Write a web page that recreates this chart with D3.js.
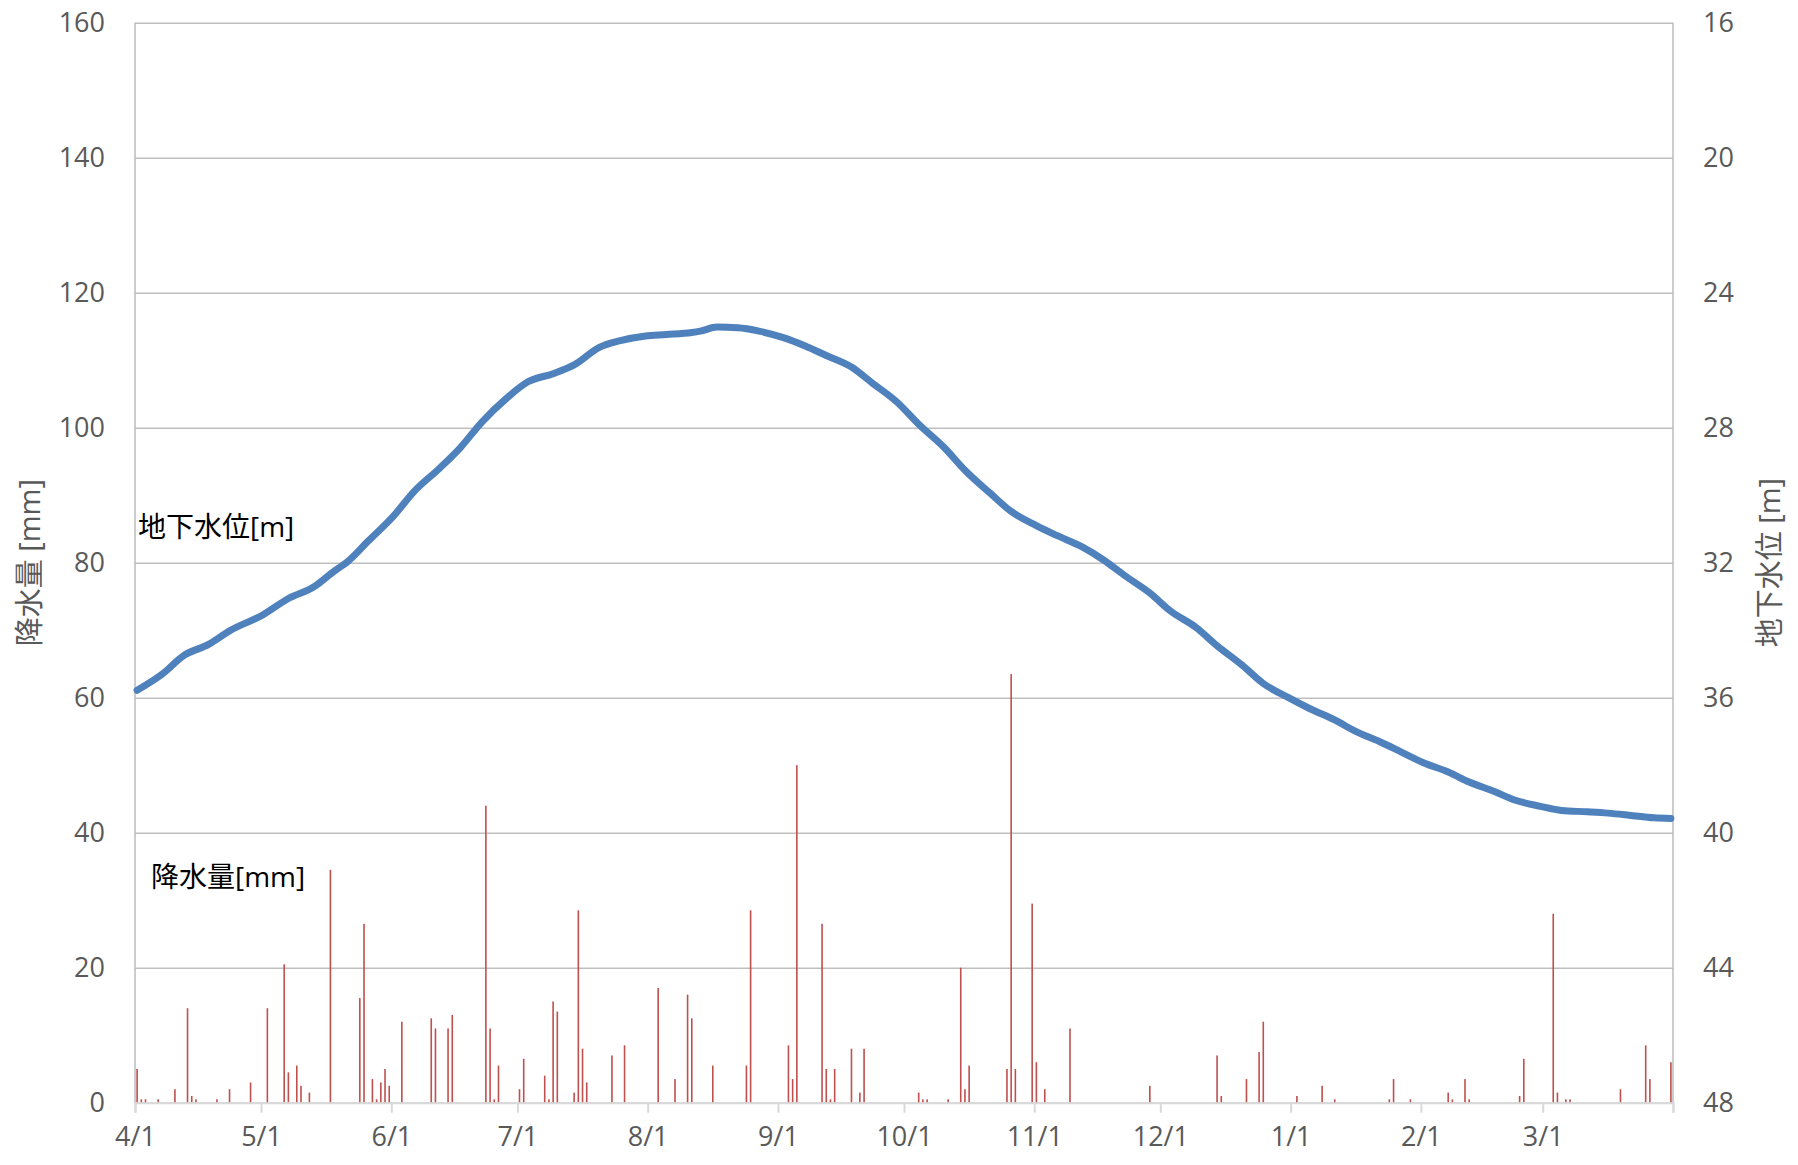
<!DOCTYPE html>
<html>
<head>
<meta charset="utf-8">
<script src="https://cdn.jsdelivr.net/npm/d3@7"></script>
<style>
  body { margin: 0; background: #fff; }
  text { font-family: "Open Sans", "Noto Sans CJK JP", sans-serif; }
</style>
</head>
<body>
<svg id="chart"></svg>
<script>
// daily rain [mm] (days with no rain left out)
var rainDates = ["2019-04-01","2019-04-02","2019-04-03","2019-04-06","2019-04-10","2019-04-13","2019-04-14","2019-04-15","2019-04-20","2019-04-23","2019-04-28",
  "2019-05-02","2019-05-06","2019-05-07","2019-05-09","2019-05-10","2019-05-12","2019-05-17","2019-05-24","2019-05-25","2019-05-27","2019-05-28","2019-05-29","2019-05-30","2019-05-31",
  "2019-06-03","2019-06-10","2019-06-11","2019-06-14","2019-06-15","2019-06-23","2019-06-24","2019-06-25","2019-06-26",
  "2019-07-01","2019-07-02","2019-07-07","2019-07-08","2019-07-09","2019-07-10","2019-07-14","2019-07-15","2019-07-16","2019-07-17","2019-07-23","2019-07-26",
  "2019-08-03","2019-08-07","2019-08-10","2019-08-11","2019-08-16","2019-08-24","2019-08-25",
  "2019-09-03","2019-09-04","2019-09-05","2019-09-11","2019-09-12","2019-09-13","2019-09-14","2019-09-18","2019-09-20","2019-09-21",
  "2019-10-04","2019-10-05","2019-10-06","2019-10-11","2019-10-14","2019-10-15","2019-10-16","2019-10-25","2019-10-26","2019-10-27","2019-10-31",
  "2019-11-01","2019-11-03","2019-11-09","2019-11-28",
  "2019-12-14","2019-12-15","2019-12-21","2019-12-24","2019-12-25",
  "2020-01-02","2020-01-08","2020-01-11","2020-01-24","2020-01-25","2020-01-29",
  "2020-02-07","2020-02-08","2020-02-11","2020-02-12","2020-02-24","2020-02-25",
  "2020-03-03","2020-03-04","2020-03-06","2020-03-07","2020-03-19","2020-03-25","2020-03-26","2020-03-31"];
var rainMm = [5,0.5,0.5,0.5,2,14,1,0.5,0.5,2,3,
  14,20.5,4.5,5.5,2.5,1.5,34.5,15.5,26.5,3.5,0.5,3,5,2.5,
  12,12.5,11,11,13,44,11,0.5,5.5,
  2,6.5,4,0.5,15,13.5,1.5,28.5,8,3,7,8.5,
  17,3.5,16,12.5,5.5,5.5,28.5,
  8.5,3.5,50,26.5,5,0.5,5,8,1.5,8,
  1.5,0.5,0.5,0.5,20,2,5.5,5,63.5,5,29.5,
  6,2,11,2.5,
  7,1,3.5,7.5,12,
  1,2.5,0.5,0.5,3.5,0.5,
  1.5,0.5,3.5,0.5,1,6.5,
  28,1.5,0.5,0.5,2,8.5,3.5,6];

// groundwater level [m] (day number from 4/1)
var gwDay = [0,6,11,17,22,30,36,42,47,50,55,61,66,72,77,82,88,93,99,104,110,115,121,126,132,134,138,143,148,154,159,164,170,175,181,186,192,197,203,208,214,219,225,230,235,241,246,252,257,263,268,274,279,285,290,296,301,306,312,317,323,328,334,339,345,350,355,361,365];
var gwLevel = [35.78,35.30,34.76,34.42,34.02,33.54,33.06,32.72,32.24,31.98,31.36,30.62,29.88,29.20,28.58,27.84,27.12,26.64,26.40,26.14,25.62,25.42,25.28,25.24,25.18,25.14,25.02,25.04,25.14,25.34,25.58,25.86,26.20,26.68,27.26,27.90,28.58,29.26,29.94,30.48,30.90,31.20,31.54,31.92,32.38,32.90,33.44,33.92,34.46,35.04,35.58,36.00,36.32,36.66,37.00,37.32,37.62,37.92,38.20,38.50,38.78,39.04,39.22,39.34,39.38,39.42,39.48,39.56,39.58];

var leftTicks = [0,20,40,60,80,100,120,140,160];
var rightTicks = [16,20,24,28,32,36,40,44,48];

var W = 1798, H = 1165;
var margin = {top: 22.7, right: 125, bottom: 62.3, left: 135};
var width = W - margin.left - margin.right,
    height = H - margin.top - margin.bottom;

var svg = d3.select("#chart").attr("width", W).attr("height", H);
svg.append("rect").attr("width", W).attr("height", H).attr("fill", "#fff");
var g = svg.append("g").attr("transform", "translate(" + margin.left + "," + margin.top + ")");

var parse = d3.utcParse("%Y-%m-%d");
var start = parse("2019-04-01"), end = parse("2020-04-01");

var x = d3.scaleUtc().domain([start, end]).range([0, width]);
var y = d3.scaleLinear().domain([0, 160]).range([height, 0]);
var y2 = d3.scaleLinear().domain([16, 48]).range([0, height]);

// gridlines + left labels
var yAxis = g.append("g")
  .call(d3.axisLeft(y).tickValues(leftTicks).tickSize(-width).tickPadding(30));
yAxis.select(".domain").remove();
yAxis.selectAll("line").attr("stroke", "#bfbfbf").attr("stroke-width", 1.6);
yAxis.selectAll("text").attr("fill", "#595959").style("font-size", "27px");

// right labels
var yAxis2 = g.append("g").attr("transform", "translate(" + width + ",0)")
  .call(d3.axisRight(y2).tickValues(rightTicks).tickSize(0).tickPadding(30));
yAxis2.select(".domain").remove();
yAxis2.selectAll("text").attr("fill", "#595959").style("font-size", "27px");

// plot frame (left / right)
g.append("line").attr("x1", 0).attr("x2", 0).attr("y1", 0).attr("y2", height)
  .attr("stroke", "#bfbfbf").attr("stroke-width", 1.6);
g.append("line").attr("x1", width).attr("x2", width).attr("y1", 0).attr("y2", height)
  .attr("stroke", "#bfbfbf").attr("stroke-width", 1.6);

// rain bars
var rain = rainDates.map(function(d, i) { return {date: parse(d), mm: rainMm[i]}; });
g.selectAll(".bar")
  .data(rain)
  .enter().append("rect")
    .attr("class", "bar")
    .attr("x", function(d) { return x(d3.utcHour.offset(d.date, 12)) - 0.8; })
    .attr("width", 1.6)
    .attr("y", function(d) { return y(d.mm); })
    .attr("height", function(d) { return height - y(d.mm); })
    .attr("fill", "#c0504d");

// groundwater level
var gw = gwDay.map(function(d, i) { return {date: d3.utcDay.offset(start, d), level: gwLevel[i]}; });
var line = d3.line()
  .x(function(d) { return x(d3.utcHour.offset(d.date, 12)); })
  .y(function(d) { return y2(d.level); })
  .curve(d3.curveMonotoneX);
g.append("path")
  .datum(gw)
  .attr("d", line)
  .attr("fill", "none")
  .attr("stroke", "#4f81bd")
  .attr("stroke-width", 7)
  .attr("stroke-linecap", "round")
  .attr("stroke-linejoin", "round");

// x axis
var months = d3.utcMonth.range(start, d3.utcDay.offset(end, 1));
var fmt = d3.utcFormat("%-m/%-d");
var xAxis = g.append("g").attr("transform", "translate(0," + height + ")")
  .call(d3.axisBottom(x).tickValues(months).tickSize(10).tickPadding(14)
    .tickFormat(function(d) { return +d === +end ? "" : fmt(d); }));
xAxis.select(".domain").attr("stroke", "#d9d9d9").attr("stroke-width", 2);
xAxis.selectAll("line").attr("stroke", "#d9d9d9").attr("stroke-width", 2);
xAxis.selectAll("text").attr("fill", "#595959").style("font-size", "27px");

// axis titles
svg.append("text")
  .attr("transform", "translate(40," + (margin.top + height / 2) + ") rotate(-90)")
  .attr("text-anchor", "middle")
  .attr("fill", "#595959")
  .style("font-size", "29px")
  .text("降水量 [mm]");
svg.append("text")
  .attr("transform", "translate(1780," + (margin.top + height / 2) + ") rotate(-90)")
  .attr("text-anchor", "middle")
  .attr("fill", "#595959")
  .style("font-size", "29px")
  .text("地下水位 [m]");

// series labels
svg.append("text").attr("x", 138).attr("y", 537)
  .attr("fill", "#000").style("font-size", "28px").text("地下水位[m]");
svg.append("text").attr("x", 151).attr("y", 887)
  .attr("fill", "#000").style("font-size", "28px").text("降水量[mm]");
</script>
</body>
</html>
